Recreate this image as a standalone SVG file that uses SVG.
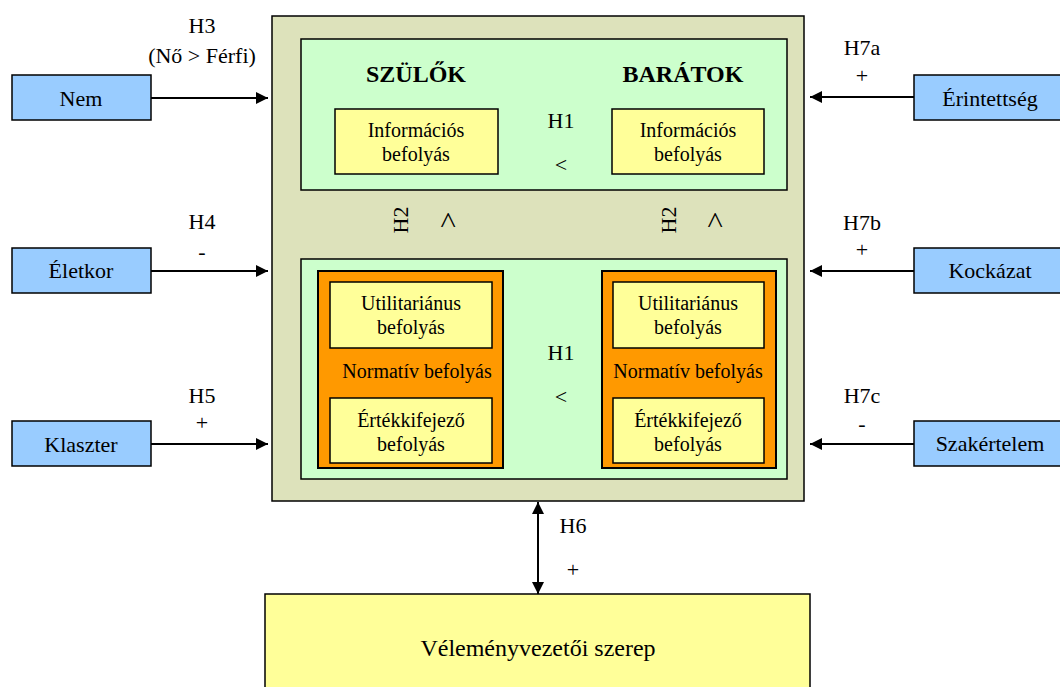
<svg xmlns="http://www.w3.org/2000/svg" width="1060" height="687" viewBox="0 0 1060 687">
<defs>
<style>
text{font-family:'Liberation Serif',Tinos,'DejaVu Serif',serif;fill:#000;text-anchor:middle}
.lbl{font-size:22px}
.in{font-size:20px}
.hd{font-size:24px;font-weight:bold}
.car{font-size:30px}
.blue{fill:#99ccff;stroke:#000;stroke-width:1.5}
.yel{fill:#ffff99;stroke:#000;stroke-width:1.5}
.grn{fill:#ccffcc;stroke:#000;stroke-width:1.5}
.org{fill:#ff9900;stroke:#000;stroke-width:2}
.con{stroke:#000;stroke-width:2;fill:none}
</style>
<marker id="ah" viewBox="0 0 10 10" refX="10" refY="5" markerWidth="6.5" markerHeight="6" orient="auto-start-reverse" markerUnits="strokeWidth">
<path d="M0,0 L10,5 L0,10 z" fill="#000"/>
</marker>
</defs>
<rect width="1060" height="687" fill="#fff"/>
<g font-family="Liberation Serif, serif">

<g id="outer">
<rect x="272" y="16" width="532" height="485" fill="#dde2bb" stroke="#000" stroke-width="1.5"/>
</g>

<g id="top-panel">
<rect class="grn" x="301" y="39" width="486" height="151"/>
<text class="hd" x="416" y="82">SZÜLŐK</text>
<text class="hd" x="683" y="82">BARÁTOK</text>
<text class="lbl" x="561" y="128">H1</text>
<text class="lbl" x="561" y="172">&lt;</text>
</g>
<g id="info-szulok">
<rect class="yel" x="335" y="109" width="163" height="65"/>
<text class="in" x="416" y="137">Információs</text>
<text class="in" x="416" y="161">befolyás</text>
</g>
<g id="info-baratok">
<rect class="yel" x="612" y="109" width="152" height="65"/>
<text class="in" x="688" y="137">Információs</text>
<text class="in" x="688" y="161">befolyás</text>
</g>

<g id="h2-labels">
<text class="lbl" transform="rotate(-90 408 220)" x="408" y="220">H2</text>
<text class="car" transform="rotate(-90 458 220)" x="458" y="220">&gt;</text>
<text class="lbl" transform="rotate(-90 676 220)" x="676" y="220">H2</text>
<text class="car" transform="rotate(-90 725 220)" x="725" y="220">&gt;</text>
</g>

<g id="bottom-panel">
<rect class="grn" x="301" y="259" width="486" height="220"/>
<text class="lbl" x="561" y="360">H1</text>
<text class="lbl" x="561" y="404">&lt;</text>
</g>
<g id="normativ-szulok">
<rect class="org" x="318" y="271" width="185" height="197"/>
<text class="in" x="417" y="378">Normatív befolyás</text>
</g>
<g id="util-szulok">
<rect class="yel" x="330" y="282" width="162" height="66"/>
<text class="in" x="411" y="310">Utilitariánus</text>
<text class="in" x="411" y="334">befolyás</text>
</g>
<g id="ertek-szulok">
<rect class="yel" x="330" y="398" width="162" height="65"/>
<text class="in" x="411" y="427">Értékkifejező</text>
<text class="in" x="411" y="451">befolyás</text>
</g>
<g id="normativ-baratok">
<rect class="org" x="602" y="271" width="174" height="197"/>
<text class="in" x="688" y="378">Normatív befolyás</text>
</g>
<g id="util-baratok">
<rect class="yel" x="613" y="282" width="151" height="66"/>
<text class="in" x="688" y="310">Utilitariánus</text>
<text class="in" x="688" y="334">befolyás</text>
</g>
<g id="ertek-baratok">
<rect class="yel" x="613" y="398" width="151" height="65"/>
<text class="in" x="688" y="427">Értékkifejező</text>
<text class="in" x="688" y="451">befolyás</text>
</g>

<g id="nem"><rect class="blue" x="12" y="75" width="139" height="45"/><text class="lbl" x="81" y="106">Nem</text></g>
<g id="eletkor"><rect class="blue" x="12" y="248" width="139" height="45"/><text class="lbl" x="81" y="278">Életkor</text></g>
<g id="klaszter"><rect class="blue" x="12" y="421" width="139" height="45"/><text class="lbl" x="81" y="452">Klaszter</text></g>
<g id="erintettseg"><rect class="blue" x="914" y="75" width="150" height="45"/><text class="lbl" x="990" y="106">Érintettség</text></g>
<g id="kockazat"><rect class="blue" x="914" y="248" width="150" height="45"/><text class="lbl" x="990" y="278">Kockázat</text></g>
<g id="szakertelem"><rect class="blue" x="914" y="421" width="150" height="45"/><text class="lbl" x="990" y="451">Szakértelem</text></g>
<g id="velemenyvezetoi"><rect class="yel" x="265" y="594" width="545" height="100"/><text style="font-size:24px" x="538" y="656">Véleményvezetői szerep</text></g>

<g id="connectors">
<line class="con" x1="151" y1="98" x2="268" y2="98" marker-end="url(#ah)"/>
<line class="con" x1="151" y1="271" x2="268" y2="271" marker-end="url(#ah)"/>
<line class="con" x1="151" y1="444" x2="268" y2="444" marker-end="url(#ah)"/>
<line class="con" x1="914" y1="97" x2="810" y2="97" marker-end="url(#ah)"/>
<line class="con" x1="914" y1="271" x2="810" y2="271" marker-end="url(#ah)"/>
<line class="con" x1="914" y1="444" x2="810" y2="444" marker-end="url(#ah)"/>
<line class="con" x1="538" y1="502" x2="538" y2="594" marker-start="url(#ah)" marker-end="url(#ah)"/>
<text class="lbl" x="202" y="33">H3</text>
<text class="lbl" x="202" y="63">(Nő &gt; Férfi)</text>
<text class="lbl" x="202" y="229">H4</text>
<text class="lbl" x="202" y="259">-</text>
<text class="lbl" x="202" y="403">H5</text>
<text class="lbl" x="202" y="430">+</text>
<text class="lbl" x="862" y="55">H7a</text>
<text class="lbl" x="862" y="83">+</text>
<text class="lbl" x="862" y="230">H7b</text>
<text class="lbl" x="862" y="257">+</text>
<text class="lbl" x="862" y="403">H7c</text>
<text class="lbl" x="862" y="431">-</text>
<text class="lbl" x="573" y="533">H6</text>
<text class="lbl" x="573" y="577">+</text>
</g>
</g>
</svg>
